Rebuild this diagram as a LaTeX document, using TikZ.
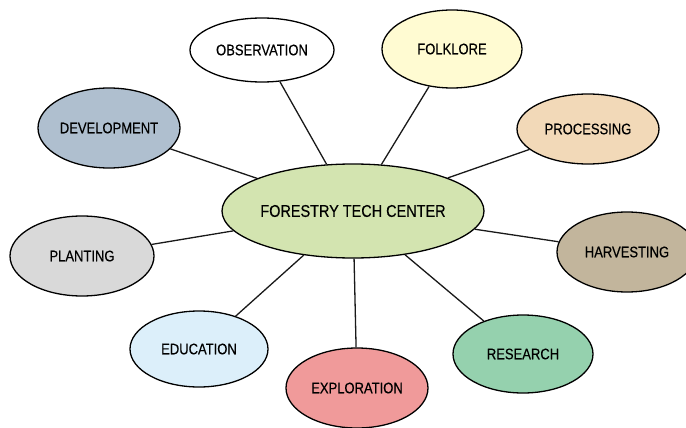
\documentclass[tikz,border=0pt]{standalone}
\usepackage{fontspec}
\setmainfont{Liberation Sans}[FakeStretch=0.85,FakeBold=0.4]
\usetikzlibrary{shapes.geometric}
\definecolor{cCenter}{HTML}{D3E4B0}
\definecolor{cFolk}{HTML}{FFFBD2}
\definecolor{cProc}{HTML}{F2D9B8}
\definecolor{cDev}{HTML}{AFBFCF}
\definecolor{cPlant}{HTML}{D9D9D9}
\definecolor{cHarv}{HTML}{C2B59C}
\definecolor{cEdu}{HTML}{DCEFFA}
\definecolor{cExpl}{HTML}{F09A9A}
\definecolor{cRes}{HTML}{95D1AE}
\tikzset{
  bubble/.style={ellipse, draw=black, line width=1.3pt, inner sep=0pt, font=\fontsize{15.3}{18}\selectfont, text=black},
  link/.style={line width=1.3pt, draw=black!90},
}
\begin{document}
\begin{tikzpicture}[x=1pt,y=-1pt]
\useasboundingbox (0,0) rectangle (686,428);
\node[bubble, fill=cCenter, minimum width=262pt, minimum height=94pt, font=\fontsize{17}{20}\selectfont] (c) at (353,211) {FORESTRY TECH CENTER};
\node[bubble, fill=white, minimum width=144pt, minimum height=64pt] (obs) at (262,50) {OBSERVATION};
\node[bubble, fill=cFolk, minimum width=140pt, minimum height=78pt] (folk) at (452,49) {FOLKLORE};
\node[bubble, fill=cProc, minimum width=142pt, minimum height=70pt] (proc) at (588,129) {PROCESSING};
\node[bubble, fill=cDev, minimum width=142pt, minimum height=80pt] (dev) at (109,128) {DEVELOPMENT};
\node[bubble, fill=cPlant, minimum width=144pt, minimum height=80pt] (plant) at (82,256) {PLANTING};
\node[bubble, fill=cHarv, minimum width=140pt, minimum height=80pt] (harv) at (627,252) {HARVESTING};
\node[bubble, fill=cEdu, minimum width=138pt, minimum height=76pt] (edu) at (199,349) {EDUCATION};
\node[bubble, fill=cExpl, minimum width=142pt, minimum height=80pt] (expl) at (357,388) {EXPLORATION};
\node[bubble, fill=cRes, minimum width=140pt, minimum height=78pt] (res) at (523,354) {RESEARCH};
\foreach \n in {obs,folk,proc,dev,plant,harv,edu,expl,res}
  \draw[link] (\n) -- (c);
\end{tikzpicture}
\end{document}
